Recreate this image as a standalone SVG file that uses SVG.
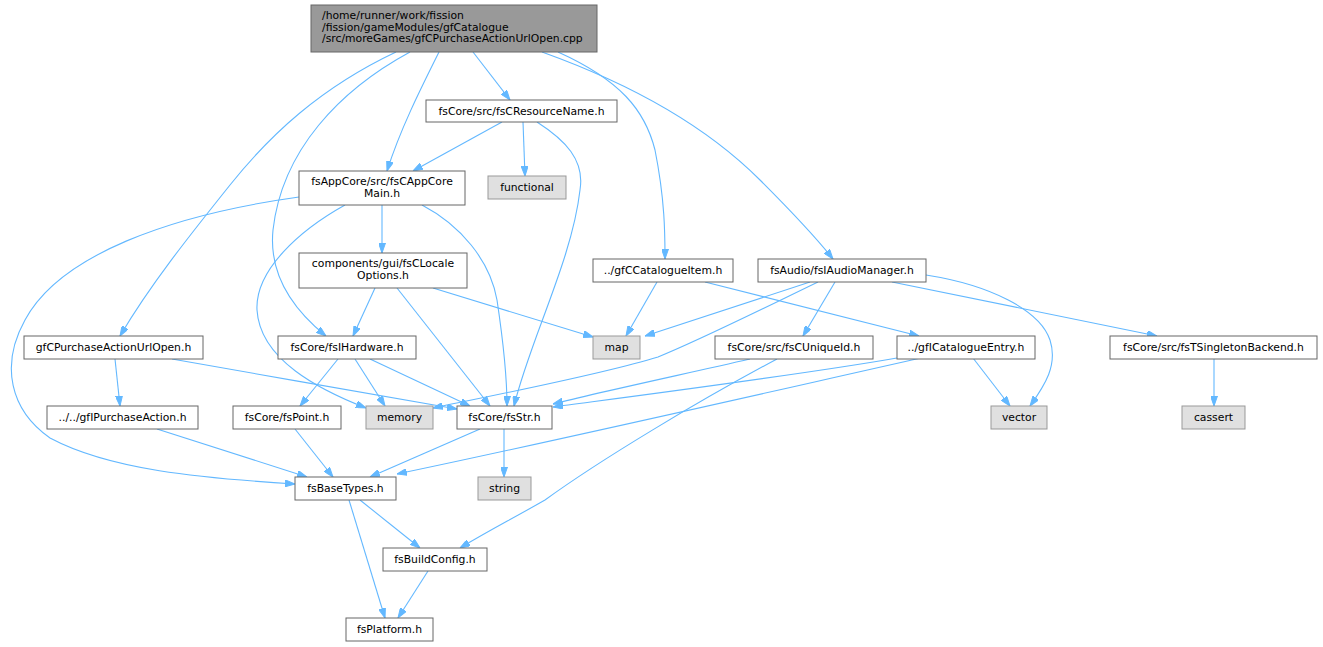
<svg xmlns="http://www.w3.org/2000/svg" width="1323" height="647" viewBox="0 0 1323 647">
<defs>
<style>
.n rect{fill:#ffffff;stroke:#666666;stroke-width:1}
.s rect{fill:#e0e0e0;stroke:#999999;stroke-width:1}
.r rect{fill:#999999;stroke:#666666;stroke-width:1}
text{font-family:"DejaVu Sans","Liberation Sans",sans-serif;font-size:10.8px;fill:#000000;text-anchor:middle}
.r text{text-anchor:start}
#edges path{fill:none;stroke:#63b8ff;stroke-width:1.1;marker-end:url(#ah)}
</style>
<marker id="ah" viewBox="0 0 10 7" refX="10" refY="3.5" markerWidth="10" markerHeight="7" markerUnits="userSpaceOnUse" orient="auto">
<path d="M0,0 L10,3.5 L0,7 z" fill="#63b8ff" stroke="#63b8ff"/>
</marker>
</defs>
<rect width="1323" height="647" fill="#ffffff"/>
<g id="edges">
<path d="M396,52 C320,88 270,135 230,185 C190,235 150,285 120,336"/>
<path d="M410,52 C340,90 282,150 273,230 C268,280 300,315 326,336"/>
<path d="M439,52 C420,90 400,130 387,171"/>
<path d="M473,52 L510,100"/>
<path d="M558,52 C620,80 645,110 655,150 C665,200 665,235 665,259"/>
<path d="M542,52 C620,80 700,120 760,180 C795,215 818,240 833,259"/>
<path d="M502,122 L413,171"/>
<path d="M523,122 L525,176"/>
<path d="M537,122 C565,140 585,160 580,190 C572,260 530,340 514,406"/>
<path d="M422,205 C460,225 490,260 497,300 C503,340 507,380 507,406"/>
<path d="M299,197 C170,215 60,255 25,320 C0,365 10,410 50,438 C110,470 200,478 295,484"/>
<path d="M345,205 C300,230 255,270 257,310 C260,360 320,390 366,408"/>
<path d="M382,205 L382,253"/>
<path d="M375,288 L353,336"/>
<path d="M397,288 L490,406"/>
<path d="M433,288 L593,337"/>
<path d="M657,282 L626,336"/>
<path d="M705,282 L919,336"/>
<path d="M810,282 L645,336"/>
<path d="M818,282 C760,310 700,340 658,357 C600,375 480,398 433,408"/>
<path d="M835,282 L803,336"/>
<path d="M892,282 L1157,336"/>
<path d="M926,275 C990,285 1040,310 1050,340 C1058,365 1045,385 1030,406"/>
<path d="M1214,358 L1214,406"/>
<path d="M973,358 L1010,406"/>
<path d="M897,358 C800,375 620,398 553,407"/>
<path d="M921,358 C800,385 560,440 397,474"/>
<path d="M750,359 C680,375 600,392 553,404"/>
<path d="M777,359 C700,400 600,460 545,500 C510,520 490,530 460,548"/>
<path d="M115,359 L120,406"/>
<path d="M172,359 C260,375 380,395 457,409"/>
<path d="M338,359 L300,406"/>
<path d="M355,359 L385,406"/>
<path d="M370,359 L470,406"/>
<path d="M157,429 L307,477"/>
<path d="M295,429 L333,477"/>
<path d="M480,429 L370,477"/>
<path d="M504,429 L504,477"/>
<path d="M360,500 L420,548"/>
<path d="M349,500 L385,618"/>
<path d="M428,571 L398,618"/>
</g>
<g id="root" class="r"><rect x="311" y="5" width="286" height="47"/><text x="322" y="19">/home/runner/work/fission</text><text x="322" y="30.5">/fission/gameModules/gfCatalogue</text><text x="322" y="42">/src/moreGames/gfCPurchaseActionUrlOpen.cpp</text></g>
<g id="fsCResourceName" class="n"><rect x="426" y="100" width="191" height="22"/><text x="521.5" y="115">fsCore/src/fsCResourceName.h</text></g>
<g id="fsCAppCoreMain" class="n"><rect x="299" y="171" width="166" height="34"/><text x="382" y="185">fsAppCore/src/fsCAppCore</text><text x="382" y="196.5">Main.h</text></g>
<g id="functional" class="s"><rect x="488" y="176" width="78" height="23"/><text x="527" y="191">functional</text></g>
<g id="fsCLocaleOptions" class="n"><rect x="299" y="253" width="168" height="35"/><text x="383" y="267">components/gui/fsCLocale</text><text x="383" y="278.5">Options.h</text></g>
<g id="gfCCatalogueItem" class="n"><rect x="593" y="259" width="140" height="23"/><text x="663" y="274">../gfCCatalogueItem.h</text></g>
<g id="fsIAudioManager" class="n"><rect x="758" y="259" width="168" height="23"/><text x="842" y="274">fsAudio/fsIAudioManager.h</text></g>
<g id="gfCPurchaseActionUrlOpen" class="n"><rect x="24" y="336" width="179" height="23"/><text x="113.5" y="351">gfCPurchaseActionUrlOpen.h</text></g>
<g id="fsIHardware" class="n"><rect x="278" y="336" width="138" height="23"/><text x="347" y="351">fsCore/fsIHardware.h</text></g>
<g id="map" class="s"><rect x="593" y="336" width="47" height="23"/><text x="616.5" y="351">map</text></g>
<g id="fsCUniqueId" class="n"><rect x="715" y="336" width="158" height="23"/><text x="794" y="351">fsCore/src/fsCUniqueId.h</text></g>
<g id="gfICatalogueEntry" class="n"><rect x="897" y="336" width="138" height="23"/><text x="966" y="351">../gfICatalogueEntry.h</text></g>
<g id="fsTSingletonBackend" class="n"><rect x="1110" y="336" width="207" height="23"/><text x="1213.5" y="351">fsCore/src/fsTSingletonBackend.h</text></g>
<g id="gfIPurchaseAction" class="n"><rect x="47" y="406" width="151" height="23"/><text x="122.5" y="421">../../gfIPurchaseAction.h</text></g>
<g id="fsPoint" class="n"><rect x="233" y="406" width="108" height="23"/><text x="287" y="421">fsCore/fsPoint.h</text></g>
<g id="memory" class="s"><rect x="366" y="406" width="67" height="23"/><text x="399.5" y="421">memory</text></g>
<g id="fsStr" class="n"><rect x="457" y="406" width="95" height="23"/><text x="504.5" y="421">fsCore/fsStr.h</text></g>
<g id="vector" class="s"><rect x="991" y="406" width="56" height="23"/><text x="1019" y="421">vector</text></g>
<g id="cassert" class="s"><rect x="1182" y="406" width="63" height="23"/><text x="1213.5" y="421">cassert</text></g>
<g id="fsBaseTypes" class="n"><rect x="295" y="477" width="101" height="23"/><text x="345.5" y="492">fsBaseTypes.h</text></g>
<g id="string" class="s"><rect x="478" y="477" width="53" height="23"/><text x="504.5" y="492">string</text></g>
<g id="fsBuildConfig" class="n"><rect x="383" y="548" width="104" height="23"/><text x="435" y="563">fsBuildConfig.h</text></g>
<g id="fsPlatform" class="n"><rect x="346" y="618" width="87" height="23"/><text x="389.5" y="633">fsPlatform.h</text></g>
</svg>
